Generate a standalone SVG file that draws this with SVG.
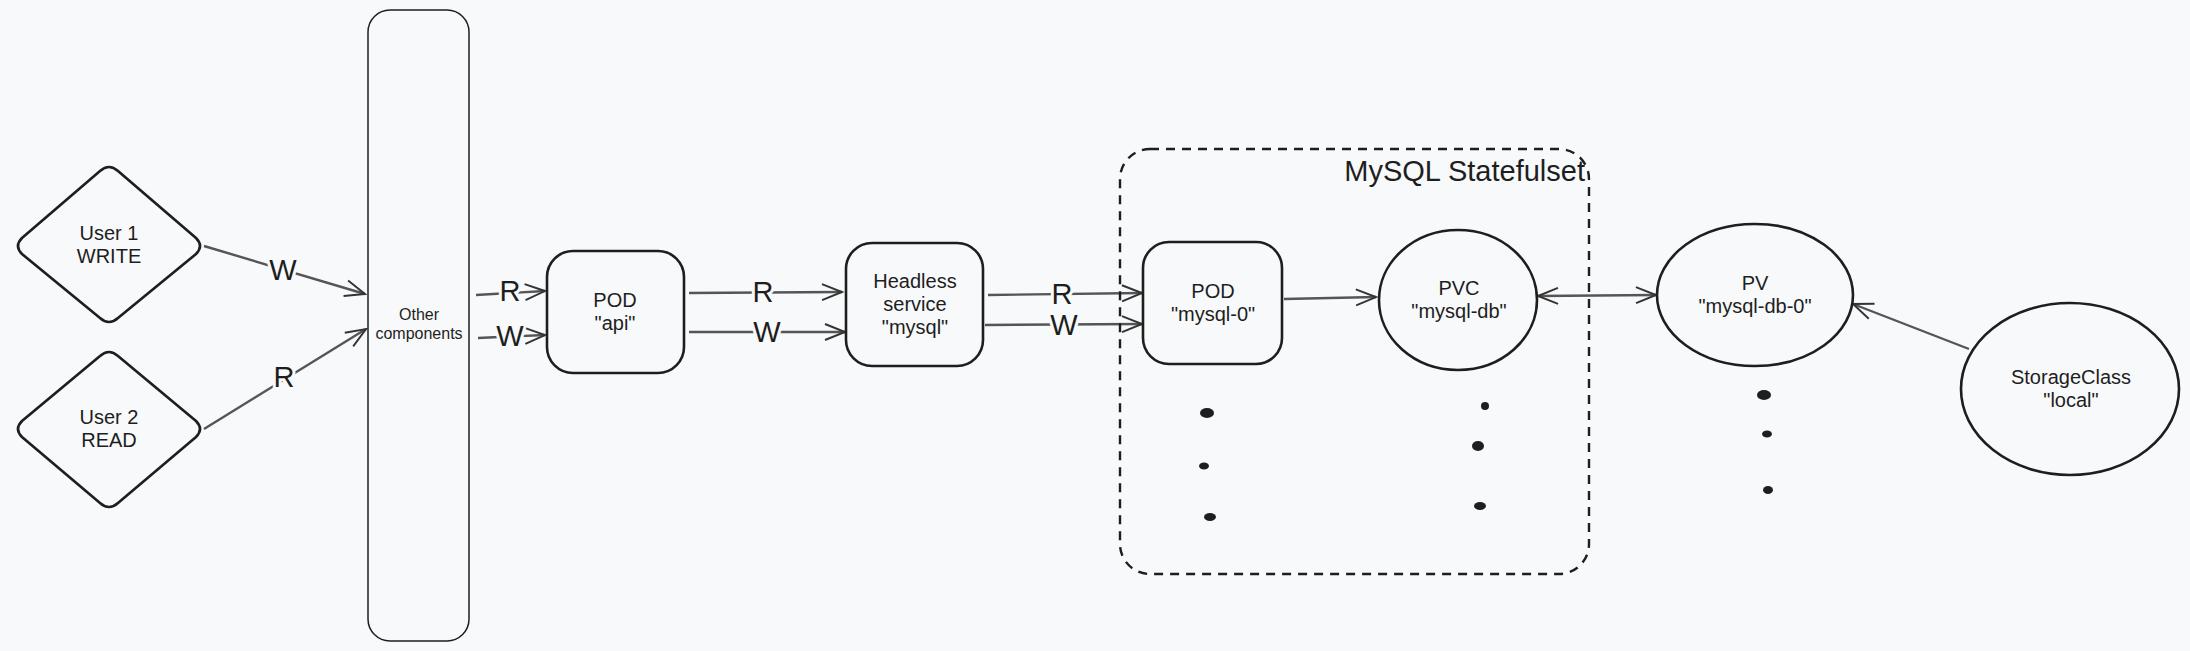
<svg xmlns="http://www.w3.org/2000/svg" width="2190" height="651" viewBox="0 0 2190 651">
<defs>
<style>
.node{fill:none;stroke:#1e1e1e;stroke-width:2.6}
.thin{fill:none;stroke:#1e1e1e;stroke-width:1.5}
.t{font-family:"Liberation Sans",Arial,sans-serif;font-size:20px;fill:#1e1e1e;text-anchor:middle}
.ts{font-family:"Liberation Sans",Arial,sans-serif;font-size:16px;fill:#1e1e1e;text-anchor:middle}
.lbl{font-family:"Liberation Sans",Arial,sans-serif;font-size:29px;fill:#1e1e1e;text-anchor:middle;paint-order:stroke;stroke:#f8f9fa;stroke-width:6px}
.edge{fill:none;stroke:#555;stroke-width:2.4;marker-end:url(#arr)}
.dot{fill:#1e1e1e}
</style>
<marker id="arr" viewBox="0 0 24 20" refX="22" refY="10" markerWidth="24" markerHeight="20" markerUnits="userSpaceOnUse" orient="auto-start-reverse">
<path d="M2,2 L22,10 L2,18" fill="none" stroke="#333" stroke-width="1.9"/>
</marker>
</defs>
<rect width="2190" height="651" fill="#f8f9fa"/>

<g id="connectors">
<path class="edge" d="M204,246 L365,294"/>
<path class="edge" d="M204,429 L366,329"/>
<path class="edge" d="M476,295 L545,291"/>
<path class="edge" d="M478,338 L545,335"/>
<path class="edge" d="M689,293 L842,292"/>
<path class="edge" d="M689,332 L845,332"/>
<path class="edge" d="M988,295 L1142,293"/>
<path class="edge" d="M985,325 L1142,324"/>
<path class="edge" d="M1284,299 L1376,297"/>
<path class="edge" style="marker-start:url(#arr)" d="M1538,296 L1656,295"/>
<path class="edge" d="M1969,349 L1853,304"/>
<text class="lbl" x="283" y="280">W</text>
<text class="lbl" x="284" y="387">R</text>
<text class="lbl" x="510" y="301">R</text>
<text class="lbl" x="510" y="346">W</text>
<text class="lbl" x="763" y="302">R</text>
<text class="lbl" x="767" y="342">W</text>
<text class="lbl" x="1062" y="304">R</text>
<text class="lbl" x="1064" y="335">W</text>
</g>

<g id="user1">
<path class="node" d="M100,171 Q109,163 118,171 L196,238 Q204,246 196,254 L118,318 Q109,326 100,318 L22,254 Q14,246 22,238 Z"/>
<text class="t" x="109" y="240">User 1</text>
<text class="t" x="109" y="263">WRITE</text>
</g>

<g id="user2">
<path class="node" d="M100,356 Q109,348 118,356 L196,421 Q204,429 196,437 L118,503 Q109,511 100,503 L22,437 Q14,429 22,421 Z"/>
<text class="t" x="109" y="424">User 2</text>
<text class="t" x="109" y="447">READ</text>
</g>

<g id="other">
<rect class="thin" x="368" y="10" width="101" height="631" rx="22"/>
<text class="ts" x="419" y="320">Other</text>
<text class="ts" x="419" y="339">components</text>
</g>

<g id="pod-api">
<rect class="node" x="547" y="251" width="137" height="122" rx="26"/>
<text class="t" x="615" y="307">POD</text>
<text class="t" x="615" y="330">"api"</text>
</g>

<g id="headless">
<rect class="node" x="846" y="243" width="137" height="123" rx="26"/>
<text class="t" x="915" y="288">Headless</text>
<text class="t" x="915" y="311">service</text>
<text class="t" x="915" y="334">"mysql"</text>
</g>

<g id="statefulset">
<rect x="1120" y="149" width="469" height="425" rx="30" fill="none" stroke="#1e1e1e" stroke-width="2.4" stroke-dasharray="9 7"/>
<text x="1585" y="181" font-family="'Liberation Sans',Arial,sans-serif" font-size="29" fill="#1e1e1e" text-anchor="end">MySQL Statefulset</text>
</g>

<g id="pod-mysql">
<rect class="node" x="1143" y="242" width="139" height="122" rx="26"/>
<text class="t" x="1213" y="298">POD</text>
<text class="t" x="1213" y="321">"mysql-0"</text>
<ellipse class="dot" cx="1207" cy="413" rx="7" ry="5"/>
<ellipse class="dot" cx="1204" cy="466" rx="5" ry="3.5"/>
<ellipse class="dot" cx="1210" cy="517" rx="6" ry="4"/>
</g>

<g id="pvc">
<ellipse class="node" cx="1458" cy="300" rx="79" ry="70"/>
<text class="t" x="1459" y="295">PVC</text>
<text class="t" x="1459" y="318">"mysql-db"</text>
<ellipse class="dot" cx="1485" cy="406" rx="4" ry="4"/>
<ellipse class="dot" cx="1478" cy="446" rx="6" ry="5"/>
<ellipse class="dot" cx="1480" cy="506" rx="6" ry="4"/>
</g>

<g id="pv">
<ellipse class="node" cx="1755" cy="295" rx="98" ry="71"/>
<text class="t" x="1755" y="290">PV</text>
<text class="t" x="1755" y="313">"mysql-db-0"</text>
<ellipse class="dot" cx="1764" cy="395" rx="7" ry="5"/>
<ellipse class="dot" cx="1767" cy="434" rx="5" ry="3.5"/>
<ellipse class="dot" cx="1768" cy="490" rx="5" ry="4"/>
</g>

<g id="storageclass">
<ellipse class="node" cx="2070" cy="389" rx="109" ry="86"/>
<text class="t" x="2071" y="384">StorageClass</text>
<text class="t" x="2071" y="407">"local"</text>
</g>
</svg>
